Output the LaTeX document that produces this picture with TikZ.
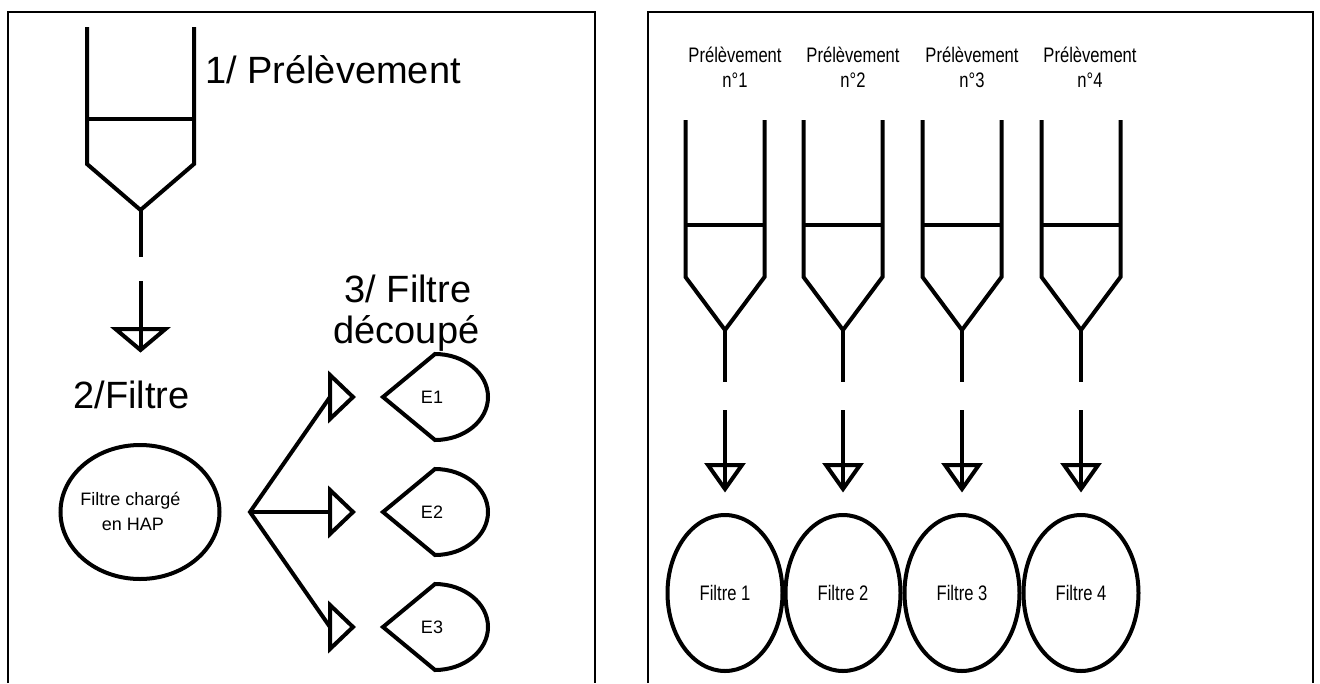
\documentclass[tikz,border=0pt]{standalone}
\usepackage{fontspec}
\setmainfont{Liberation Sans}
\newfontfamily\narrowsans{Liberation Sans}[FakeStretch=0.79]
\usetikzlibrary{shapes.geometric}
\begin{document}
\begin{tikzpicture}[x=1pt,y=-1pt,
  frame/.style={draw=black, line width=1.4pt},
  stroke/.style={draw=black, line width=4pt, line join=miter, line cap=butt},
  bigtxt/.style={font=\fontsize{38}{44}\selectfont, inner sep=0pt},
  smalltxt/.style={font=\fontsize{18}{22}\selectfont, inner sep=0pt},
  narrowtxt/.style={font=\narrowsans\fontsize{21}{25}\selectfont, inner sep=0pt},
  filtre/.style={ellipse, draw=black, line width=4pt, inner sep=0pt,
    minimum width=115pt, minimum height=156pt,
    font=\narrowsans\fontsize{21}{25}\selectfont},
]
\useasboundingbox (0,0) rectangle (1320,683);
\fill[white] (0,0) rectangle (1320,683);

% two panels, open at the bottom
\draw[frame] (8,683) -- (8,12) -- (595,12) -- (595,683);
\draw[frame] (648,683) -- (648,12) -- (1313,12) -- (1313,683);

% ---------- left panel ----------
% sampling vessel
\draw[stroke] (87,27) -- (87,164) -- (140.5,210) -- (194,164) -- (194,27);
\draw[stroke] (87,119) -- (194,119);
\coordinate (outL) at (140.5,210);
\coordinate (stemL) at (140.5,257);
\draw[stroke] (outL) -- (stemL);
\coordinate (inL) at (140.5,281);
\coordinate (tipL) at (140.5,350);
\draw[stroke] (inL) -- (tipL);
\draw[stroke] (tipL) -- ++(-25,-21) -- ++(50,0) -- cycle;

\node[bigtxt, anchor=base west] (t1) at (205,83) {1/ Prélèvement};
\node[bigtxt, anchor=base] (t2) at (131.5,408) {2/Filtre};
\node[bigtxt, anchor=base] (t3a) at (408,302) {3/ Filtre};
\node[bigtxt, anchor=base] (t3b) at (406.5,343) {découpé};

% loaded filter
\node[ellipse, draw=black, line width=4pt, inner sep=0pt,
  minimum width=159pt, minimum height=134pt] (charge) at (140,512) {};
\node[smalltxt, anchor=base] (c1) at (130.5,505) {Filtre chargé};
\node[smalltxt, anchor=base] (c2) at (133,530) {en HAP};

% fan towards the cut pieces
\coordinate (fan) at (250,512);
\coordinate (b1) at (330,397);
\coordinate (b2) at (330,512);
\coordinate (b3) at (330,627);
\draw[stroke] (b1) -- (fan) -- (b3);
\draw[stroke] (fan) -- (b2);
\foreach \b in {b1,b2,b3}
  \draw[stroke] (\b) ++(0,-22) -- ++(23,22) -- ++(-23,22) -- cycle;

% cut pieces
\foreach \y/\i in {397/1, 512/2, 627/3} {
  \node[smalltxt] (e\i) at (432,\y) {E\i};
  \draw[stroke] (383,\y) -- (435,\y-43)
    arc[start angle=90, end angle=-90, x radius=53pt, y radius=43pt] -- cycle;
}

% ---------- right panel ----------
\foreach \c/\lx/\i in {725/735/1, 843/853/2, 962/972/3, 1081/1090/4} {
  \draw[stroke] (\c-39.5,120) -- (\c-39.5,277) -- (\c,330) -- (\c+39.5,277) -- (\c+39.5,120);
  \draw[stroke] (\c-39.5,225) -- (\c+39.5,225);
  \coordinate (out\i) at (\c,330);
  \coordinate (stem\i) at (\c,382);
  \draw[stroke] (out\i) -- (stem\i);
  \coordinate (in\i) at (\c,410);
  \coordinate (tip\i) at (\c,489);
  \draw[stroke] (in\i) -- (tip\i);
  \draw[stroke] (tip\i) -- ++(-17,-24) -- ++(34,0) -- cycle;
  \node[filtre] (f\i) at (\c,593) {Filtre \i};
  \node[narrowtxt, anchor=base] (p\i) at (\lx,62) {Prélèvement};
  \node[narrowtxt, anchor=base] (n\i) at (\lx,87) {n°\i};
}
\end{tikzpicture}
\end{document}
